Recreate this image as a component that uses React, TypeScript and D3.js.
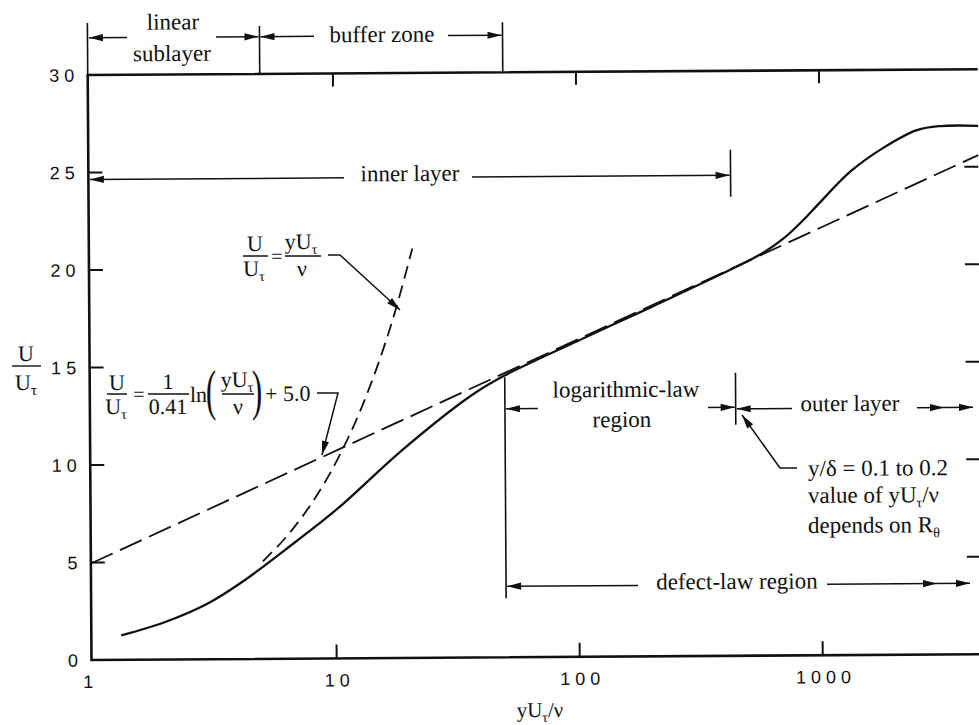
import React from 'react';
import * as d3 from 'd3';

// ---- data ----
const xTickValues = [1, 10, 100, 1000];
const xTickLabels = ['1', '10', '100', '1000'];
const yTickValues = [0, 5, 10, 15, 20, 25, 30];
const yTickLabels = ['0', '5', '10', '15', '20', '25', '30'];
const innerYTicks = [5, 10, 15, 20, 25];
const innerXTicks = [10, 100, 1000];

// measured mean-velocity profile (solid curve)
const profileX = [1.3, 2.0, 3.0, 4.1, 6.2, 10, 19, 36, 49, 100, 200, 470, 590, 710, 850, 980, 1340, 1830, 2520, 3150, 4500];
const profileU = [1.25, 1.95, 2.9, 3.95, 5.6, 7.6, 10.7, 13.4, 14.4, 16.2, 17.9, 20.05, 20.7, 21.4, 22.3, 23.1, 24.8, 26.0, 26.9, 27.1, 27.1];

// linear law U/Ut = yUt/nu (dashed)
const linearLawX = [5, 6, 7, 8, 9, 10, 12, 14, 16, 18, 21];
const linearLawU = [5, 6, 7, 8, 9, 10, 12, 14, 16, 18, 21];

// log law (long dashes)
const logLawX = [0.98, 4500];
const logLawU = [4.95, 25.6];

// region boundaries (yUt/nu)
const linearSublayerEnd = 5;
const bufferZoneEnd = 50;
const innerLayerEnd = 430;
const outerLayerStart = 445;

// ---- layout ----
const W = 979, H = 725;
const ML = 91.5, MR = 981.5, MT = 75, MB = 660;
const ROT = -0.37;
const A = 0.37 * Math.PI / 180;
const SERIF = "'Liberation Serif', 'Times New Roman', serif";
const SANS = "'Liberation Sans', Arial, sans-serif";
const INK = '#111';

// picture coordinates -> unrotated group coordinates
function P(xr: number, yr: number): [number, number] {
  const dx = xr - ML, dy = yr - MB;
  return [ML + dx * Math.cos(A) - dy * Math.sin(A), MB + dx * Math.sin(A) + dy * Math.cos(A)];
}

const xScale = d3.scaleLog().domain([0.98, 4500]).range([ML, MR]);
const yScale = d3.scaleLinear().domain([0, 30]).range([MB, MT]);

function head(tx: number, ty: number, fx: number, fy: number, len = 14, hw = 3.6) {
  const dx = tx - fx, dy = ty - fy;
  const L = Math.hypot(dx, dy) || 1;
  const ux = dx / L, uy = dy / L;
  const bx = tx - ux * len, by = ty - uy * len;
  const px = -uy * hw, py = ux * hw;
  return `${tx},${ty} ${bx + px},${by + py} ${bx - px},${by - py}`;
}

function Arrow({ x1, y1, x2, y2, extra }: { x1: number; y1: number; x2: number; y2: number; extra?: number }) {
  return (
    <g>
      <line x1={x1} y1={y1} x2={x2} y2={y2} stroke={INK} strokeWidth={1.5} />
      <polygon points={head(x2, y2, x1, y1)} fill={INK} />
      {extra !== undefined && <polygon points={head(extra, y2, x1, y1)} fill={INK} />}
    </g>
  );
}

function T({ x, y, children, anchor = 'start', size = 23, family = SERIF, ls = 0 }: any) {
  const [px, py] = P(x, y);
  return (
    <text x={px} y={py} textAnchor={anchor} fontSize={size} fontFamily={family} fill={INK} letterSpacing={ls}>
      {children}
    </text>
  );
}

function Paren({ x, y, ch }: { x: number; y: number; ch: string }) {
  const [px, py] = P(x, y);
  return (
    <text transform={`translate(${px},${py}) scale(0.55,1)`} fontSize={56} fontFamily={SERIF} fill={INK} fontWeight={300}>
      {ch}
    </text>
  );
}

function Bar({ x1, x2, y }: { x1: number; x2: number; y: number }) {
  const a = P(x1, y), b = P(x2, y);
  return <line x1={a[0]} y1={a[1]} x2={b[0]} y2={b[1]} stroke={INK} strokeWidth={1.4} />;
}

const sub = (s: string, size = 14) => [
  <tspan key="s" fontSize={size} dy={5}>{s}</tspan>,
];

function Leader({ pts }: { pts: [number, number][] }) {
  const q = pts.map(p => P(p[0], p[1]));
  const n = q.length;
  return (
    <g>
      <polyline points={q.map(p => p.join(',')).join(' ')} fill="none" stroke={INK} strokeWidth={1.5} />
      <polygon points={head(q[n - 1][0], q[n - 1][1], q[n - 2][0], q[n - 2][1])} fill={INK} />
    </g>
  );
}

export default function App() {
  const profile = d3.zip(profileX, profileU) as [number, number][];
  const linLaw = d3.zip(linearLawX, linearLawU) as [number, number][];
  const logLaw = d3.zip(logLawX, logLawU) as [number, number][];
  const line = d3.line<[number, number]>().x(d => xScale(d[0])).y(d => yScale(d[1]));
  const smooth = d3.line<[number, number]>().x(d => xScale(d[0])).y(d => yScale(d[1])).curve(d3.curveCatmullRom.alpha(0.5));

  const xL = xScale.range()[0];
  const x5 = xScale(linearSublayerEnd);
  const x50 = xScale(bufferZoneEnd);
  const xIn = xScale(innerLayerEnd);
  const xOut = xScale(outerLayerStart);

  const topY = 37.8;
  const innerY = 179.5;
  const logY = 411.5;
  const outerY = 413;
  const defY = 589;

  return (
    <svg width={W} height={H} style={{ position: 'absolute', left: 0, top: 0, background: '#fff' }}>
      <rect x={0} y={0} width={W} height={H} fill="#fff" />
      <g transform={`rotate(${ROT} ${ML} ${MB})`}>
        {/* frame */}
        <path d={`M${MR},${MT}H${ML}V${MB}H${MR}`} fill="none" stroke={INK} strokeWidth={2.6} />
        {innerYTicks.map(v => (
          <g key={'yt' + v}>
            <line x1={ML} x2={ML + 14} y1={yScale(v)} y2={yScale(v)} stroke={INK} strokeWidth={2} />
            <line x1={MR} x2={MR - 14} y1={yScale(v)} y2={yScale(v)} stroke={INK} strokeWidth={2} />
          </g>
        ))}
        {innerXTicks.map(v => (
          <g key={'xt' + v}>
            <line x1={xScale(v)} x2={xScale(v)} y1={MB} y2={MB - 14} stroke={INK} strokeWidth={2} />
            <line x1={xScale(v)} x2={xScale(v)} y1={MT} y2={MT + 13} stroke={INK} strokeWidth={2} />
          </g>
        ))}
        {/* tick labels */}
        {yTickValues.map((v, i) => (
          <text key={'yl' + v} x={83} y={yScale(v) + 6.5} textAnchor="end" fontSize={18} fontFamily={SANS} letterSpacing={5} fill={INK}>
            {yTickLabels[i]}
          </text>
        ))}
        {xTickValues.map((v, i) => (
          <text key={'xl' + v} x={xScale(v) + (i === 0 ? -3 : 3)} y={688} textAnchor="middle" fontSize={18} fontFamily={SANS} letterSpacing={5} fill={INK}>
            {xTickLabels[i]}
          </text>
        ))}

        {/* curves */}
        <path d={line(logLaw) || ''} fill="none" stroke={INK} strokeWidth={1.8} strokeDasharray="24,8" />
        <path d={smooth(linLaw) || ''} fill="none" stroke={INK} strokeWidth={1.8} strokeDasharray="13,7" />
        <path d={smooth(profile) || ''} fill="none" stroke={INK} strokeWidth={2.3} />

        {/* top brackets */}
        <line x1={xL} x2={xL} y1={P(88, 23)[1]} y2={MT} stroke={INK} strokeWidth={1.6} />
        <line x1={x5} x2={x5} y1={27} y2={MT} stroke={INK} strokeWidth={1.6} />
        <line x1={x50} x2={x50} y1={25} y2={MT} stroke={INK} strokeWidth={1.6} />
        <Arrow x1={P(127, 36)[0]} y1={topY} x2={xL + 1.5} y2={topY} />
        <Arrow x1={P(216, 36)[0]} y1={topY} x2={x5 - 1} y2={topY} />
        <Arrow x1={P(314, 36)[0]} y1={topY} x2={x5 + 1} y2={topY} />
        <Arrow x1={P(448, 36)[0]} y1={topY} x2={x50 - 1} y2={topY} />
        <T x={173} y={29.5} anchor="middle">linear</T>
        <T x={172} y={61} anchor="middle">sublayer</T>
        <T x={382} y={42} anchor="middle">buffer zone</T>

        {/* inner layer */}
        <Arrow x1={P(344, 177)[0]} y1={innerY} x2={xL + 1.5} y2={innerY} />
        <Arrow x1={P(472, 177)[0]} y1={innerY} x2={xIn - 1} y2={innerY} />
        <line x1={xIn} x2={xIn} y1={154} y2={201} stroke={INK} strokeWidth={1.6} />
        <T x={410} y={181} anchor="middle">inner layer</T>

        {/* log-law region / outer layer */}
        <line x1={x50} x2={x50} y1={380} y2={601} stroke={INK} strokeWidth={1.6} />
        <Arrow x1={P(538, 408)[0]} y1={logY} x2={x50 + 1} y2={logY} />
        <Arrow x1={P(708, 408)[0]} y1={logY} x2={xOut - 1} y2={logY} />
        <line x1={xOut} x2={xOut} y1={377} y2={429} stroke={INK} strokeWidth={1.6} />
        <T x={626} y={397} anchor="middle">logarithmic-law</T>
        <T x={622} y={427} anchor="middle">region</T>
        <Arrow x1={P(792, 408)[0]} y1={outerY} x2={xOut + 1} y2={outerY} />
        <T x={850} y={411} anchor="middle">outer layer</T>
        <Arrow x1={P(917, 408)[0]} y1={outerY} x2={P(973, 408)[0]} y2={outerY} extra={P(944, 408)[0]} />

        {/* y/delta note */}
        <Leader pts={[[797, 468], [780, 468], [742, 415]]} />
        <T x={808} y={476}>y/δ = 0.1 to 0.2</T>
        <T x={808} y={503}>value of yU{sub('τ')}<tspan dy={-5}>/ν</tspan></T>
        <T x={808} y={533}>depends on R{sub('θ')}</T>

        {/* defect-law region */}
        <Arrow x1={P(638, 585)[0]} y1={defY} x2={x50 + 1} y2={defY} />
        <Arrow x1={P(827, 585)[0]} y1={defY} x2={P(970, 585)[0]} y2={defY} extra={P(937, 585)[0]} />
        <T x={737} y={589} anchor="middle">defect-law region</T>

        {/* equation 1 */}
        <T x={255} y={251} anchor="middle" size={22}>U</T>
        <Bar x1={243} x2={268} y={256} />
        <T x={254} y={276} anchor="middle" size={22}>U{sub('τ', 14)}</T>
        <T x={277} y={263} anchor="middle" size={20}>=</T>
        <T x={301} y={249} anchor="middle" size={22}>yU{sub('τ', 14)}</T>
        <Bar x1={285} x2={321} y={256} />
        <T x={302} y={276} anchor="middle" size={22}>ν</T>
        <Leader pts={[[328, 255], [340, 255], [400, 310]]} />

        {/* equation 2 */}
        <T x={117} y={390} anchor="middle" size={22}>U</T>
        <Bar x1={107} x2={127} y={394} />
        <T x={116} y={414} anchor="middle" size={22}>U{sub('τ', 14)}</T>
        <T x={139} y={401} anchor="middle" size={20}>=</T>
        <T x={168} y={389} anchor="middle" size={22}>1</T>
        <Bar x1={148} x2={189} y={394} />
        <T x={168} y={414} anchor="middle" size={22}>0.41</T>
        <T x={190} y={402} size={22}>ln</T>
        <Paren x={206} y={409} ch="(" />
        <T x={237} y={387} anchor="middle" size={22}>yU{sub('τ', 14)}</T>
        <Bar x1={222} x2={254} y={394} />
        <T x={238} y={414} anchor="middle" size={22}>ν</T>
        <Paren x={252} y={409} ch=")" />
        <T x={265} y={401} size={22}>+ 5.0</T>
        <Leader pts={[[317, 393], [338, 393], [322, 455]]} />

        {/* y axis label */}
        <T x={26} y={361} anchor="middle" size={22}>U</T>
        <Bar x1={12} x2={41} y={366} />
        <T x={26} y={390} anchor="middle" size={22}>U{sub('τ', 15)}</T>

        {/* x axis label */}
        <T x={540} y={717} anchor="middle" size={21}>yU{sub('τ', 14)}<tspan dy={-5}>/ν</tspan></T>
      </g>
    </svg>
  );
}
